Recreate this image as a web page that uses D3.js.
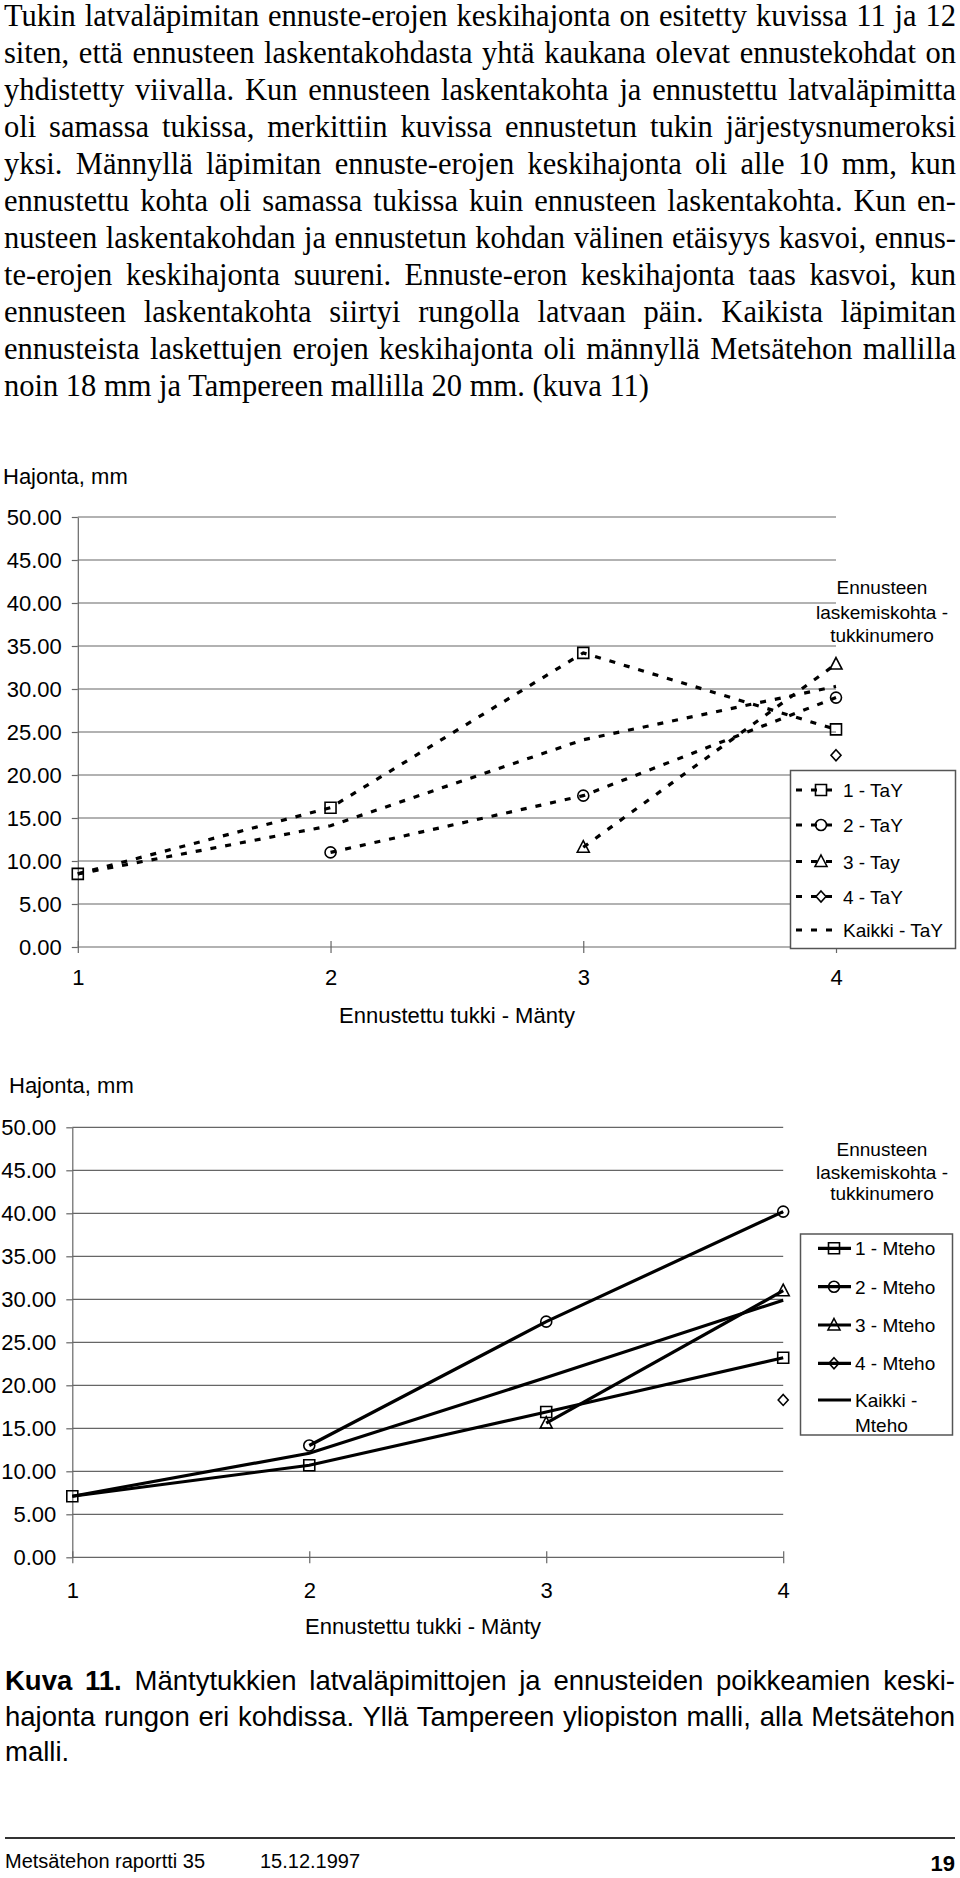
<!DOCTYPE html>
<html><head><meta charset="utf-8">
<script src="https://cdn.jsdelivr.net/npm/d3@7"></script>
<style>
html,body{margin:0;padding:0;background:#fff;}
svg{display:block;}
</style></head><body>
<svg id="page" width="960" height="1878"></svg>
<script>
// ---------------- DATA ----------------
const paragraphLines = [
  "Tukin latvaläpimitan ennuste-erojen keskihajonta on esitetty kuvissa 11 ja 12",
  "siten, että ennusteen laskentakohdasta yhtä kaukana olevat ennustekohdat on",
  "yhdistetty viivalla. Kun ennusteen laskentakohta ja ennustettu latvaläpimitta",
  "oli samassa tukissa, merkittiin kuvissa ennustetun tukin järjestysnumeroksi",
  "yksi. Männyllä läpimitan ennuste-erojen keskihajonta oli alle 10 mm, kun",
  "ennustettu kohta oli samassa tukissa kuin ennusteen laskentakohta. Kun en-",
  "nusteen laskentakohdan ja ennustetun kohdan välinen etäisyys kasvoi, ennus-",
  "te-erojen keskihajonta suureni. Ennuste-eron keskihajonta taas kasvoi, kun",
  "ennusteen laskentakohta siirtyi rungolla latvaan päin. Kaikista läpimitan",
  "ennusteista laskettujen erojen keskihajonta oli männyllä Metsätehon mallilla",
  "noin 18 mm ja Tampereen mallilla 20 mm. (kuva 11)"
];
const captionBold = "Kuva 11.";
const captionLines = [
  " Mäntytukkien latvaläpimittojen ja ennusteiden poikkeamien keski-",
  "hajonta rungon eri kohdissa. Yllä Tampereen yliopiston malli, alla Metsätehon",
  "malli."
];
const footerLeft = "Metsätehon raportti 35";
const footerDate = "15.12.1997";
const pageNumber = "19";

const categories = [1, 2, 3, 4];
const yTicks = [0, 5, 10, 15, 20, 25, 30, 35, 40, 45, 50];
const yAxisTitle = "Hajonta, mm";
const xAxisTitle = "Ennustettu tukki - Mänty";
const legendTitle = ["Ennusteen", "laskemiskohta -", "tukkinumero"];
const markerTypes = ["square", "circle", "triangle", "diamond", null];

// Tampereen yliopiston malli (TaY)
const tayNames = ["1 - TaY", "2 - TaY", "3 - Tay", "4 - TaY", "Kaikki - TaY"];
const tay1 = [8.5, 16.2, 34.2, 25.3];
const tay2 = [null, 11.0, 17.6, 29.0];
const tay3 = [null, null, 11.6, 32.9];
const tay4 = [null, null, null, 22.3];
const tayAll = [8.5, 14.1, 24.1, 30.3];

// Metsätehon malli (Mteho)
const mtehoNames = ["1 - Mteho", "2 - Mteho", "3 - Mteho", "4 - Mteho", "Kaikki - Mteho"];
const mteho1 = [7.1, 10.7, 16.9, 23.2];
const mteho2 = [null, 13.0, 27.4, 40.2];
const mteho3 = [null, null, 15.6, 31.0];
const mteho4 = [null, null, null, 18.3];
const mtehoAll = [7.1, 12.1, 20.9, 29.9];

// ---------------- DRAWING ----------------
const svg = d3.select("#page");
const SANS = "'Liberation Sans', Arial, Helvetica, sans-serif";
const SERIF = "'Liberation Serif', 'Times New Roman', Times, serif";

function justify(sel, width) {
  sel.each(function () {
    const t = d3.select(this);
    const natural = this.getComputedTextLength();
    const spaces = (this.textContent.trim().match(/ /g) || []).length;
    if (spaces > 0) t.style("word-spacing", ((width - natural) / spaces) + "px");
  });
}

// Body paragraph
const para = svg.append("g").attr("font-family", SERIF).attr("font-size", 30.5).attr("fill", "#000");
para.selectAll("text").data(paragraphLines).join("text")
  .attr("x", 4).attr("y", (d, i) => 26 + i * 37)
  .attr("xml:space", "preserve")
  .text(d => d);
para.selectAll("text").filter((d, i) => i < paragraphLines.length - 1).call(justify, 952);

const markerPath = {
  square: "M-5.5,-5.5H5.5V5.5H-5.5Z",
  circle: "M5.5,0A5.5,5.5 0 1,1 -5.5,0A5.5,5.5 0 1,1 5.5,0Z",
  triangle: "M0,-6.5L6,5L-6,5Z",
  diamond: "M0,-5.5L5,0L0,5.5L-5,0Z"
};

function drawChart(o) {
  const g = svg.append("g").attr("font-family", SANS).attr("fill", "#000");
  const x = d3.scalePoint().domain(categories).range(o.xRange);
  const y = d3.scaleLinear().domain([0, 50]).range(o.yRange);

  // gridlines
  g.append("g").selectAll("line").data(yTicks).join("line")
    .attr("x1", o.xRange[0]).attr("x2", o.xRange[1])
    .attr("y1", d => y(d)).attr("y2", d => y(d))
    .attr("stroke", "#666").attr("stroke-width", 1.2);

  // y axis
  const ya = g.append("g").attr("transform", `translate(${o.xRange[0]},0)`)
    .call(d3.axisLeft(y).tickValues(yTicks).tickFormat(d3.format(".2f")).tickSizeInner(6).tickSizeOuter(0).tickPadding(10));
  ya.attr("font-size", 22).attr("font-family", SANS);
  ya.select(".domain").attr("stroke", "#666").attr("stroke-width", 1.2);
  ya.selectAll(".tick line").attr("stroke", "#666").attr("stroke-width", 1.2);
  ya.selectAll(".tick text").attr("fill", "#000");

  // x axis (ticks crossing the zero line)
  const xa = g.append("g").attr("transform", `translate(0,${y(0) - 6})`)
    .call(d3.axisBottom(x).tickSizeInner(12).tickSizeOuter(0).tickPadding(o.xPad));
  xa.attr("font-size", 22).attr("font-family", SANS);
  xa.select(".domain").remove();
  xa.selectAll(".tick line").attr("stroke", "#666").attr("stroke-width", 1.2);
  xa.selectAll(".tick text").attr("fill", "#000");

  // axis titles
  g.append("text").attr("x", o.yTitle[0]).attr("y", o.yTitle[1]).attr("font-size", 22).text(yAxisTitle);
  g.append("text").attr("x", o.xTitle[0]).attr("y", o.xTitle[1]).attr("font-size", 22)
    .attr("text-anchor", "middle").text(xAxisTitle);

  // series
  const line = d3.line().defined(d => d.v != null).x(d => x(d.c)).y(d => y(d.v));
  o.series.forEach((vals, i) => {
    const pts = categories.map((c, j) => ({ c, v: vals[j] }));
    g.append("path").datum(pts).attr("d", line).attr("fill", "none")
      .attr("stroke", "#000").attr("stroke-width", o.lineWidth)
      .attr("stroke-dasharray", o.dash);
    const m = markerTypes[i];
    if (m) {
      g.append("g").selectAll("path").data(pts.filter(d => d.v != null)).join("path")
        .attr("transform", d => `translate(${x(d.c)},${y(d.v)})`)
        .attr("d", markerPath[m]).attr("fill", "none")
        .attr("stroke", "#000").attr("stroke-width", 1.6);
    }
  });

  // legend title
  const L = o.legend;
  g.append("g").attr("font-size", 19).attr("text-anchor", "middle")
    .selectAll("text").data(legendTitle).join("text")
    .attr("x", L.titleX).attr("y", (d, i) => L.titleY[i]).text(d => d);

  // legend box
  const lg = g.append("g").attr("font-size", 19);
  lg.append("rect").attr("x", L.box[0]).attr("y", L.box[1]).attr("width", L.box[2]).attr("height", L.box[3])
    .attr("fill", "#fff").attr("stroke", "#555").attr("stroke-width", 1.5);
  o.names.forEach((name, i) => {
    const cy = L.rows[i];
    lg.append("line").attr("x1", L.lx0).attr("x2", L.lx1).attr("y1", cy).attr("y2", cy)
      .attr("stroke", "#000").attr("stroke-width", o.lineWidth).attr("stroke-dasharray", o.dash);
    const m = markerTypes[i];
    if (m) {
      lg.append("path").attr("transform", `translate(${L.mx},${cy})`).attr("d", markerPath[m])
        .attr("fill", "none").attr("stroke", "#000").attr("stroke-width", 1.6);
    }
    // greedy wrap
    const words = name.split(" ");
    const lines = [];
    let cur = "";
    const probe = lg.append("text").attr("visibility", "hidden");
    words.forEach(w => {
      const test = cur ? cur + " " + w : w;
      probe.text(test);
      if (cur && probe.node().getComputedTextLength() > L.maxText) { lines.push(cur); cur = w; }
      else cur = test;
    });
    lines.push(cur);
    probe.remove();
    lines.forEach((t, k) => {
      lg.append("text").attr("x", L.tx).attr("y", cy + 7 + k * 25).text(t);
    });
  });
}

drawChart({
  xRange: [77.8, 836], yRange: [947, 517], xPad: 16,
  yTitle: [3, 484], xTitle: [457, 1023],
  series: [tay1, tay2, tay3, tay4, tayAll], names: tayNames,
  lineWidth: 3.2, dash: "6,9",
  legend: {
    titleX: 882, titleY: [594, 619, 642],
    box: [790.5, 770.5, 165, 178],
    rows: [790, 825, 861.5, 896.5, 930],
    lx0: 796, lx1: 836, mx: 821, tx: 843, maxText: 115
  }
});

drawChart({
  xRange: [72.3, 783.2], yRange: [1557.3, 1127.3], xPad: 19,
  yTitle: [9, 1093], xTitle: [423, 1634],
  series: [mteho1, mteho2, mteho3, mteho4, mtehoAll], names: mtehoNames,
  lineWidth: 3.2, dash: null,
  legend: {
    titleX: 882, titleY: [1156, 1178.5, 1200],
    box: [800.5, 1234, 152, 201],
    rows: [1248.3, 1286.7, 1325, 1363.3, 1400],
    lx0: 818, lx1: 851, mx: 834, tx: 855, maxText: 92
  }
});

// Caption
const cap = svg.append("g").attr("font-family", SANS).attr("font-size", 27.5).attr("fill", "#000");
const capText = cap.selectAll("text").data(captionLines).join("text")
  .attr("x", 5).attr("y", (d, i) => 1690 + i * 35.5);
capText.each(function (d, i) {
  const t = d3.select(this);
  if (i === 0) t.append("tspan").attr("font-weight", "bold").text(captionBold);
  t.append("tspan").attr("xml:space", "preserve").text(d);
});
capText.filter((d, i) => i < captionLines.length - 1).call(justify, 950);

// Footer
svg.append("line").attr("x1", 5).attr("x2", 955).attr("y1", 1838).attr("y2", 1838)
  .attr("stroke", "#333").attr("stroke-width", 2);
const foot = svg.append("g").attr("font-family", SANS).attr("fill", "#000");
foot.append("text").attr("x", 5).attr("y", 1868).attr("font-size", 20).text(footerLeft);
foot.append("text").attr("x", 260).attr("y", 1868).attr("font-size", 20).text(footerDate);
foot.append("text").attr("x", 955).attr("y", 1871).attr("font-size", 22).attr("font-weight", "bold")
  .attr("text-anchor", "end").text(pageNumber);
</script>
</body></html>
